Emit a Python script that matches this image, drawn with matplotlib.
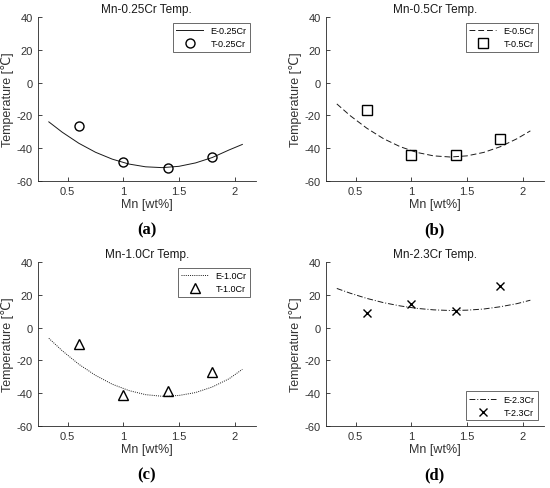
import matplotlib
matplotlib.use("Agg")
import matplotlib.pyplot as plt

plt.rcParams["font.family"] = ["Liberation Sans", "DejaVu Sans"]
plt.rcParams["axes.unicode_minus"] = False

# measured Mn content
mn_pts = [0.6, 1.0, 1.4, 1.8]

# fitted (E) curves
mn_fit = [0.33, 0.45, 0.6, 0.75, 0.9, 1.05, 1.2, 1.35, 1.5, 1.65, 1.8, 1.95, 2.07]
e_025 = [-24.0, -30.3, -37.1, -42.6, -46.8, -49.8, -51.5, -52.0, -51.2, -49.1, -45.8, -41.2, -37.8]
e_05 = [-13.0, -20.2, -27.9, -34.3, -39.2, -42.7, -44.8, -45.5, -44.8, -42.7, -39.2, -34.3, -29.5]
e_10 = [-6.5, -14.1, -22.4, -29.2, -34.6, -38.5, -41.0, -42.0, -41.5, -39.7, -36.3, -31.3, -25.5]
e_23 = [24.0, 21.1, 17.9, 15.3, 13.3, 11.8, 10.9, 10.5, 10.7, 11.4, 12.8, 14.7, 16.8]

# test (T) values
t_025 = [-26.5, -48.5, -52.0, -45.5]
t_05 = [-16.5, -44.5, -44.0, -34.5]
t_10 = [-10.0, -41.0, -39.0, -27.0]
t_23 = [9.0, 14.5, 10.5, 25.5]

panels = [
    ("Mn-0.25Cr Temp.", "0.25Cr", e_025, t_025, "-", "o", "upper right", "(a)"),
    ("Mn-0.5Cr Temp.", "0.5Cr", e_05, t_05, (0, (6, 3)), "s", "upper right", "(b)"),
    ("Mn-1.0Cr Temp.", "1.0Cr", e_10, t_10, (0, (1, 1.2)), "^", "upper right", "(c)"),
    ("Mn-2.3Cr Temp.", "2.3Cr", e_23, t_23, (0, (6, 2, 1, 2)), "x", "lower right", "(d)"),
]

fig = plt.figure(figsize=(5.5, 4.89), dpi=100)
W, H = 550, 489
lefts = [37.7, 325.7]
tops = [18.3, 263.3]
aw, ah = 218, 163.4

ax_col = "#262626"
for i, (title, tag, e_vals, t_vals, ls, mk, loc, cap) in enumerate(panels):
    r, c = divmod(i, 2)
    x0, y0 = lefts[c], tops[r]
    ax = fig.add_axes([x0 / W, 1 - (y0 + ah) / H, aw / W, ah / H])
    ax.plot(mn_fit, e_vals, color="#1a1a1a", lw=0.7, linestyle=ls, label="E-" + tag)
    ms = 6.5 if mk != "x" else 6
    ax.plot(mn_pts, t_vals, linestyle="none", marker=mk, ms=ms, mfc="none",
            mec="black", mew=1.0, label="T-" + tag)
    ax.set_xlim(0.23, 2.19)
    ax.set_ylim(-60, 40)
    ax.set_xticks([0.5, 1, 1.5, 2])
    ax.set_xticklabels(["0.5", "1", "1.5", "2"])
    ax.set_yticks([-60, -40, -20, 0, 20, 40])
    for s in ["top", "right"]:
        ax.spines[s].set_visible(False)
    for s in ["left", "bottom"]:
        ax.spines[s].set_color(ax_col)
        ax.spines[s].set_linewidth(0.6)
    ax.tick_params(direction="in", length=3, width=0.6, colors=ax_col,
                   labelsize=8, labelcolor="#333333")
    ax.set_title(title, fontsize=8.5, pad=4, color="#1a1a1a")
    ax.set_xlabel("Mn [wt%]", fontsize=9, color="#333333", labelpad=2)
    ax.set_ylabel("Temperature [℃]", fontsize=9, color="#333333", labelpad=2)
    leg = ax.legend(loc=loc, fontsize=6.5, frameon=True, fancybox=False,
                    edgecolor="#262626", handlelength=3.0, borderpad=0.4,
                    labelspacing=0.4, borderaxespad=0.6)
    leg.get_frame().set_linewidth(0.6)
    ax.text(0.5, -0.3, cap, transform=ax.transAxes, ha="center", va="center",
            fontsize=12, fontweight="bold", family="Liberation Serif")

fig.savefig("out.png", dpi=100)
